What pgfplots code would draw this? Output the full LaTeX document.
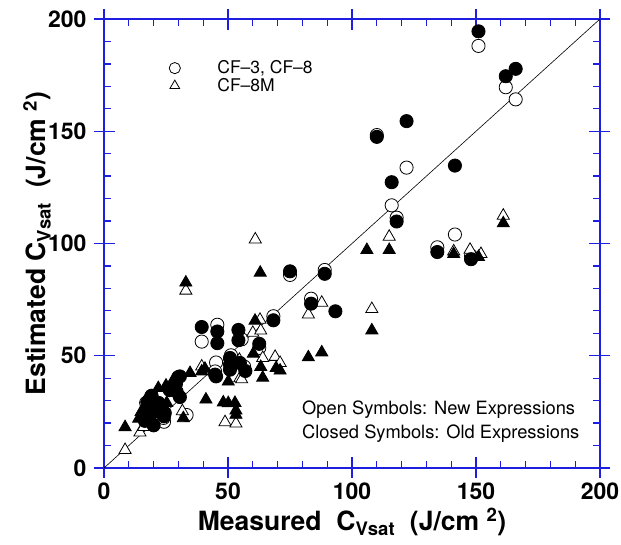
\documentclass[border=0pt]{standalone}
\usepackage{fontspec}
\setmainfont{TeX Gyre Heros}
\usepackage{pgfplots}
\pgfplotsset{compat=1.18}
\definecolor{axblue}{RGB}{30,30,225}

\pgfplotsset{
  frame/.style={
    at={(104pt,77pt)}, anchor=south west,
    scale only axis, width=496pt, height=449pt,
    xmin=0, xmax=200, ymin=0, ymax=200,
    xtick={0,50,...,200}, ytick={0,50,...,200},
    axis line style={axblue, line width=1.6pt},
    tick style={axblue, line width=1.3pt},
  },
  openmk/.style={only marks, mark=*, mark size=6.6pt, mark options={draw=black, fill=white, line width=0.8pt}},
  fullmk/.style={only marks, mark=*, mark size=6.6pt, mark options={draw=black, fill=black, line width=0.8pt}},
  opentri/.style={only marks, mark=triangle*, mark size=7pt, mark options={draw=black, fill=white, line width=0.8pt}},
  fulltri/.style={only marks, mark=triangle*, mark size=7pt, mark options={draw=black, fill=black, line width=0.8pt}},
}

\begin{document}
\begin{tikzpicture}[x=1pt,y=1pt]
\useasboundingbox (0,0) rectangle (621,545);
% outward half of the major ticks
\begin{axis}[frame, tick align=outside, major tick length=10pt,
  xticklabels={}, yticklabels={}]
\end{axis}
\begin{axis}[frame, tick align=inside, major tick length=11pt,
  minor tick num=4, minor tick length=7pt,
  /pgf/number format/assume math mode=true,
  tick label style={font=\bfseries\fontsize{23}{23}\selectfont},
  xticklabel style={yshift=-11pt},
  yticklabel style={xshift=-14pt},
  xlabel={Measured\ \ C\textsubscript{Vsat}\ \ (J/cm \textsuperscript{2})},
  ylabel={Estimated\ C\textsubscript{Vsat}\ \ (J/cm \textsuperscript{2})},
  label style={font=\bfseries\fontsize{26.5}{26.5}\selectfont},
  xlabel style={at={(axis description cs:0.5,-0.12)}, anchor=center},
  ylabel style={at={(axis description cs:-0.135,0.5)}, anchor=center},
  legend image code/.code={\draw[#1, mark size=5.6pt] plot coordinates {(0pt,0pt)};},
  legend style={at={(axis description cs:0.125,0.871)}, anchor=west, draw=none, fill=none,
    row sep=1pt, column sep=37pt,
    nodes={inner xsep=0pt, inner ysep=1pt, font=\fontsize{17.5}{17.5}\selectfont}},
  legend cell align=left,
]
\addplot[black, line width=0.6pt, forget plot] coordinates {(0,0) (200,200)};

% CF-3, CF-8, new expressions
\addplot[openmk] coordinates {
(151,188) (162,169.6) (166,164.2) (110,148.3) (122,133.8) (116,117) (118,111.5)
(141.5,104) (134.4,98.3) (148,94.5) (89,88.2) (75,86) (83.5,75.4) (68.3,67.6)
(62.6,53.5) (39.4,56.3) (45.7,63.8) (55.5,57.3) (51.2,50.2) (45.2,47) (56.5,45.2)
(44.8,43) (33.3,23.6) (24.2,20.6) (24,22.3) (30,40.5) (20,24) (17,29)
};
\addlegendentry{CF–3, CF–8}

% CF-8M, new expressions
\addplot[opentri] coordinates {
(8.5,8) (14.5,15.8) (16,18.3) (31.6,25.3) (33,79) (39.4,45.2) (54.8,40) (54.6,48.2)
(48.8,20.4) (53.2,19.8) (60,60.2) (63.2,61.2) (62.9,66) (64,49) (69,49.5) (55.5,39.5)
(61,101.8) (82.4,68.4) (87.8,73.6) (108,70.8) (115,103) (141,96.5) (147.6,97.2)
(152,95.3) (161,112.4) (71,46.8) (19,20)
};
\addlegendentry{CF–8M}

% CF-3, CF-8, old expressions
\addplot[fullmk, forget plot] coordinates {
(151,194.5) (162,174.5) (166,177.8) (110,147.5) (122,154.5) (141.5,134.7) (116,127.3)
(118,109.8) (134.4,96.2) (148,93) (89,86.5) (75,87.6) (83.5,73.2) (93.3,69.8)
(68.3,65.8) (62.6,55.3) (54.2,61.5) (54.2,56.9) (45.7,60.8) (45.7,55.6) (39.4,62.8)
(50.8,49) (50.8,46) (50.8,43.8) (54.8,46.8) (57,43.2) (45.2,40.8) (44.8,41.6)
(30.6,40.8) (29,37.4) (29.3,34) (30.6,31.6) (26.5,34.7) (19.2,32.2) (17.5,29)
(17,26) (19,24) (16.5,21) (20,19) (21.2,26.8) (23.3,24.5) (24.2,23) (24.5,24.5) (22,29)
};

% CF-8M, old expressions
\addplot[fulltri, forget plot] coordinates {
(8.5,18.2) (21.9,35.6) (25,36.7) (28,39.3) (25.3,29) (32,22.2) (33,82.6) (34.7,42.3)
(39.4,43) (40.7,44.2) (41.1,30.5) (48.1,29.2) (50.1,28.9) (52.8,29) (53.2,25.6)
(53.2,23.7) (50.1,38.5) (60.9,65.6) (60.2,50.9) (63.2,45) (69.4,44.5) (64,40.2)
(63,87) (71,43.4) (82.4,49.3) (87.8,51.5) (106,97.1) (115,97.1) (108,61.3)
(141,95.3) (151,94) (161,109) (17.2,31) (14,22) (15,25)
};

\node[anchor=west, font=\fontsize{18.3}{18.3}\selectfont] at (axis cs:78.5,25.8) {Open Symbols: New Expressions};
\node[anchor=west, font=\fontsize{18.3}{18.3}\selectfont] at (axis cs:78.5,15.5) {Closed Symbols: Old Expressions};
\end{axis}
\end{tikzpicture}
\end{document}
